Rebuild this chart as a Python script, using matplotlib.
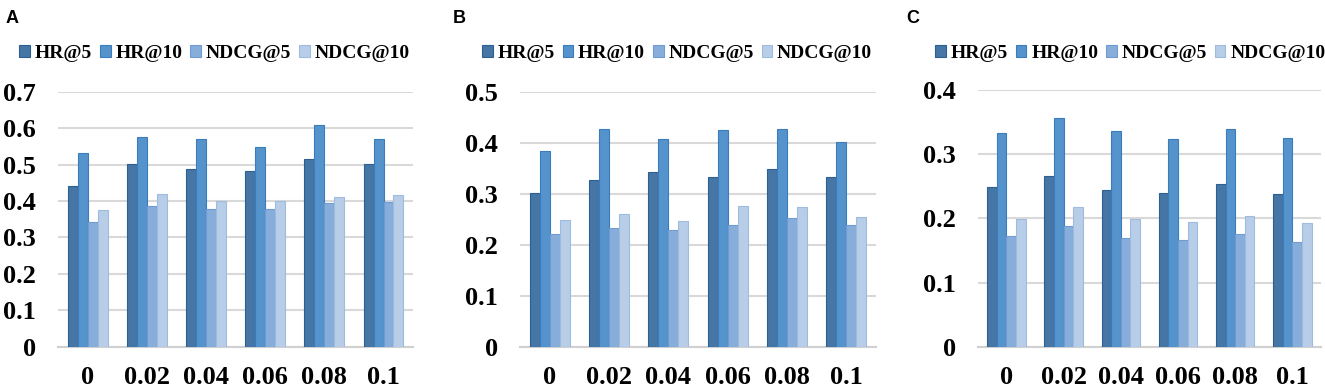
import matplotlib

matplotlib.use("Agg")

import matplotlib.pyplot as plt
import numpy as np

CATEGORIES = ["0", "0.02", "0.04", "0.06", "0.08", "0.1"]
SERIES = ["HR@5", "HR@10", "NDCG@5", "NDCG@10"]

A_HR5 = [0.442, 0.502, 0.489, 0.483, 0.515, 0.502]
A_HR10 = [0.532, 0.575, 0.569, 0.549, 0.608, 0.569]
A_NDCG5 = [0.343, 0.386, 0.377, 0.377, 0.394, 0.398]
A_NDCG10 = [0.374, 0.418, 0.400, 0.399, 0.411, 0.415]

B_HR5 = [0.302, 0.326, 0.343, 0.333, 0.348, 0.333]
B_HR10 = [0.384, 0.427, 0.408, 0.424, 0.427, 0.401]
B_NDCG5 = [0.220, 0.233, 0.229, 0.239, 0.252, 0.239]
B_NDCG10 = [0.248, 0.261, 0.246, 0.275, 0.273, 0.255]

C_HR5 = [0.249, 0.266, 0.245, 0.240, 0.254, 0.238]
C_HR10 = [0.333, 0.356, 0.336, 0.324, 0.339, 0.325]
C_NDCG5 = [0.173, 0.188, 0.170, 0.167, 0.176, 0.163]
C_NDCG10 = [0.199, 0.217, 0.199, 0.194, 0.204, 0.193]

FACE = ["#4676a6", "#5593cc", "#87aedb", "#b7cde8"]
EDGE = ["#2f5f8f", "#3b7cbd", "#6f9bd0", "#9fbbe0"]

# panel: label, data, ymax, axes rect, legend centre, label x
PANELS = [
    ("A", [A_HR5, A_HR10, A_NDCG5, A_NDCG10], 0.7,
     [0.0438, 0.111, 0.268, 0.654], (0.162, 0.864), 0.004),
    ("B", [B_HR5, B_HR10, B_NDCG5, B_NDCG10], 0.5,
     [0.3925, 0.111, 0.2685, 0.654], (0.511, 0.864), 0.342),
    ("C", [C_HR5, C_HR10, C_NDCG5, C_NDCG10], 0.4,
     [0.738, 0.111, 0.259, 0.658], (0.853, 0.864), 0.684),
]

fig = plt.figure(figsize=(13.25, 3.9), dpi=100)
serif = ["Liberation Serif", "DejaVu Serif"]
x = np.arange(len(CATEGORIES))
width = 0.168

for label, data, ymax, rect, legpos, lx in PANELS:
    ax = fig.add_axes(rect)
    handles = []
    for i, vals in enumerate(data):
        h = ax.bar(x + (i - 1.5) * width, vals, width, color=FACE[i],
                   edgecolor=EDGE[i], linewidth=0.8, zorder=3, label=SERIES[i])
        handles.append(h)
    ax.set_xlim(-0.5, len(CATEGORIES) - 0.5)
    ax.set_ylim(0, ymax)
    ax.set_yticks(np.arange(0, ymax + 0.001, 0.1))
    ax.set_yticklabels(["0"] + [f"{v:.1f}" for v in np.arange(0.1, ymax + 0.001, 0.1)])
    ax.set_xticks(x)
    ax.set_xticklabels(CATEGORIES)
    ax.yaxis.grid(True, color="#d9d9d9", linewidth=1.5, zorder=0)
    for s in ["top", "right", "left"]:
        ax.spines[s].set_visible(False)
    ax.spines["bottom"].set_color("#d0d0d0")
    ax.spines["bottom"].set_linewidth(1.5)
    ax.tick_params(axis="both", length=0)
    ax.tick_params(axis="y", pad=16)
    ax.tick_params(axis="x", pad=14)
    for t in ax.get_xticklabels() + ax.get_yticklabels():
        t.set_fontfamily(serif)
        t.set_fontweight("bold")
        t.set_fontsize(19)
    fig.legend(handles=handles, loc="center", bbox_to_anchor=legpos, ncol=4,
               frameon=False, prop={"family": serif, "weight": "bold", "size": 14},
               handlelength=0.55, handleheight=0.55, handletextpad=0.25,
               columnspacing=0.4, borderaxespad=0, borderpad=0)
    fig.text(lx, 0.975, label, fontsize=13, fontweight="bold",
             family="Liberation Sans", va="top", ha="left")

fig.savefig("out.png", dpi=100)
